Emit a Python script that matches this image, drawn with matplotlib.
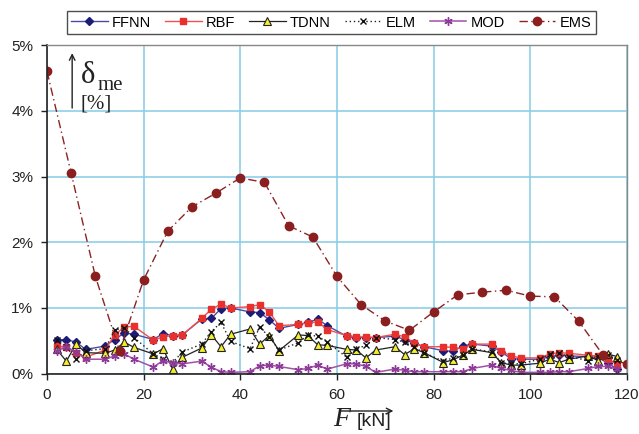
import matplotlib
matplotlib.use('Agg')
import matplotlib.pyplot as plt
from matplotlib.ticker import FuncFormatter

plt.rcParams['font.family'] = ['Liberation Sans', 'DejaVu Sans']

# load values [kN] for the network models (every 2 kN, multiples of 10 skipped)
force = [2, 4, 6, 8, 12, 14, 16, 18, 22, 24, 26, 28, 32, 34, 36, 38,
         42, 44, 46, 48, 52, 54, 56, 58, 62, 64, 66, 68, 72, 74, 76, 78,
         82, 84, 86, 88, 92, 94, 96, 98, 102, 104, 106, 108, 112, 114, 116, 118]

ffnn = [0.51, 0.52, 0.48, 0.37, 0.42, 0.52, 0.62, 0.60, 0.52, 0.61, 0.58, 0.59,
        0.83, 0.84, 0.99, 1.00, 0.94, 0.93, 0.82, 0.69, 0.75, 0.78, 0.83, 0.73,
        0.57, 0.55, 0.55, 0.55, 0.57, 0.52, 0.46, 0.41, 0.35, 0.34, 0.42, 0.45,
        0.42, 0.33, 0.23, 0.22, 0.22, 0.26, 0.28, 0.27, 0.26, 0.25, 0.16, 0.07]

rbf = [0.42, 0.40, 0.32, 0.25, 0.36, 0.59, 0.71, 0.72, 0.51, 0.56, 0.58, 0.59,
       0.84, 0.98, 1.06, 1.00, 1.02, 1.05, 0.94, 0.73, 0.75, 0.77, 0.79, 0.67,
       0.58, 0.56, 0.56, 0.55, 0.60, 0.56, 0.47, 0.41, 0.41, 0.40, 0.38, 0.45,
       0.45, 0.34, 0.27, 0.24, 0.24, 0.30, 0.32, 0.31, 0.28, 0.27, 0.23, 0.14]

tdnn = [0.37, 0.19, 0.45, 0.32, 0.31, 0.36, 0.48, 0.40, 0.30, 0.38, 0.07, 0.25,
        0.39, 0.59, 0.41, 0.60, 0.68, 0.45, 0.58, 0.35, 0.59, 0.58, 0.44, 0.43,
        0.37, 0.36, 0.24, 0.36, 0.41, 0.29, 0.38, 0.32, 0.17, 0.21, 0.28, 0.37,
        0.32, 0.17, 0.13, 0.13, 0.16, 0.22, 0.17, 0.22, 0.27, 0.20, 0.30, 0.26]

elm = [0.51, 0.41, 0.22, 0.35, 0.38, 0.66, 0.70, 0.55, 0.30, 0.22, 0.17, 0.33,
       0.45, 0.64, 0.78, 0.49, 0.38, 0.71, 0.56, 0.36, 0.47, 0.59, 0.57, 0.48,
       0.25, 0.38, 0.43, 0.55, 0.52, 0.48, 0.40, 0.32, 0.19, 0.24, 0.28, 0.38,
       0.33, 0.17, 0.15, 0.15, 0.22, 0.30, 0.32, 0.26, 0.20, 0.27, 0.29, 0.21]

mod = [0.35, 0.41, 0.33, 0.22, 0.22, 0.27, 0.30, 0.22, 0.10, 0.20, 0.16, 0.15,
       0.19, 0.10, 0.03, 0.02, 0.03, 0.12, 0.13, 0.11, 0.06, 0.08, 0.13, 0.07,
       0.15, 0.15, 0.11, 0.02, 0.07, 0.05, 0.03, 0.03, 0.03, 0.03, 0.03, 0.08,
       0.13, 0.08, 0.05, 0.02, 0.02, 0.02, 0.03, 0.03, 0.08, 0.11, 0.11, 0.07]

# EMS measured every 5 kN
ems_force = [0, 5, 10, 15, 20, 25, 30, 35, 40, 45, 50, 55, 60,
             65, 70, 75, 80, 85, 90, 95, 100, 105, 110, 115, 120]
ems = [4.60, 3.05, 1.48, 0.35, 1.43, 2.17, 2.54, 2.75, 2.98, 2.91, 2.25, 2.08, 1.48,
       1.05, 0.80, 0.66, 0.94, 1.20, 1.24, 1.27, 1.18, 1.17, 0.80, 0.29, 0.14]

fig = plt.figure(figsize=(6.39, 4.34), dpi=100)
ax = fig.add_axes([0.0736, 0.139, 0.9075, 0.757])

ax.plot(force, ffnn, color='#4b4ba6', lw=1.0, marker='D', ms=4,
        mfc='#1c1c78', mec='#1c1c78', label='FFNN')
ax.plot(force, rbf, color='#f05050', lw=1.0, marker='s', ms=4.5,
        mfc='#e8302c', mec='#e8302c', label='RBF')
ax.plot(force, tdnn, color='#222222', lw=0.9, marker='^', ms=6,
        mfc='#f2ee2a', mec='#222222', mew=0.8, label='TDNN')
ax.plot(force, elm, color='#222222', lw=1.0, ls=(0, (1, 2)), marker='x', ms=5,
        mec='#111111', mew=1.0, label='ELM')
ax.plot(force, mod, color='#a450a8', lw=1.1, marker=(6, 2, 0), ms=6,
        mec='#8e3a98', mew=1.0, label='MOD')
ax.plot(ems_force, ems, color='#8b2323', lw=1.0, ls=(0, (6, 2.5, 1, 2.5)),
        marker='o', ms=6, mfc='#8b1e1e', mec='#8b1e1e', label='EMS')

ax.set_xlim(0, 120)
ax.set_ylim(0, 5)
ax.set_xticks(range(0, 121, 20))
ax.set_yticks(range(0, 6))
ax.yaxis.set_major_formatter(FuncFormatter(lambda v, p: '%d%%' % v))
ax.grid(True, color='#86cbe6', lw=1.1)
ax.set_axisbelow(True)
ax.tick_params(labelsize=11, length=4, width=1, colors='#222222', pad=6)
for side in ['left', 'bottom']:
    ax.spines[side].set_color('#222222')
    ax.spines[side].set_linewidth(1.2)
for side in ['top', 'right']:
    ax.spines[side].set_color('#888888')
    ax.spines[side].set_linewidth(1.0)

leg = ax.legend(ncol=6, loc='lower center', bbox_to_anchor=(0.49, 1.034),
                fontsize=10.5, frameon=True, fancybox=False, edgecolor='#222222',
                handlelength=2.5, handletextpad=0.3, columnspacing=0.95,
                borderpad=0.3, borderaxespad=0)
leg.get_frame().set_linewidth(1.0)

# y axis label with arrow, inside the plot
ax.annotate('', xy=(5.2, 4.92), xytext=(5.2, 4.0),
            arrowprops=dict(arrowstyle='->', color='#222222', lw=1.0))
ax.text(7.0, 4.42, 'δ', family='Liberation Serif', fontsize=22, color='#222222',
        ha='left', va='baseline')
ax.text(10.5, 4.32, 'me', family='Liberation Serif', fontsize=15, color='#222222',
        ha='left', va='baseline')
ax.text(7.0, 4.04, '[%]', family='Liberation Serif', fontsize=15, color='#222222',
        ha='left', va='baseline')

# x axis label: F [kN] with arrow above
fig.text(0.534, 0.018, 'F', family='Liberation Serif', style='italic',
         fontsize=20, color='#222222', ha='center', va='baseline')
fig.text(0.558, 0.018, '[kN]', fontsize=14, color='#222222', ha='left', va='baseline')
fig.patches.append(matplotlib.patches.FancyArrowPatch(
    (0.527, 0.053), (0.620, 0.053), transform=fig.transFigure,
    arrowstyle='->', mutation_scale=10, color='#222222', lw=1.0))

fig.savefig('out.png', dpi=100)
